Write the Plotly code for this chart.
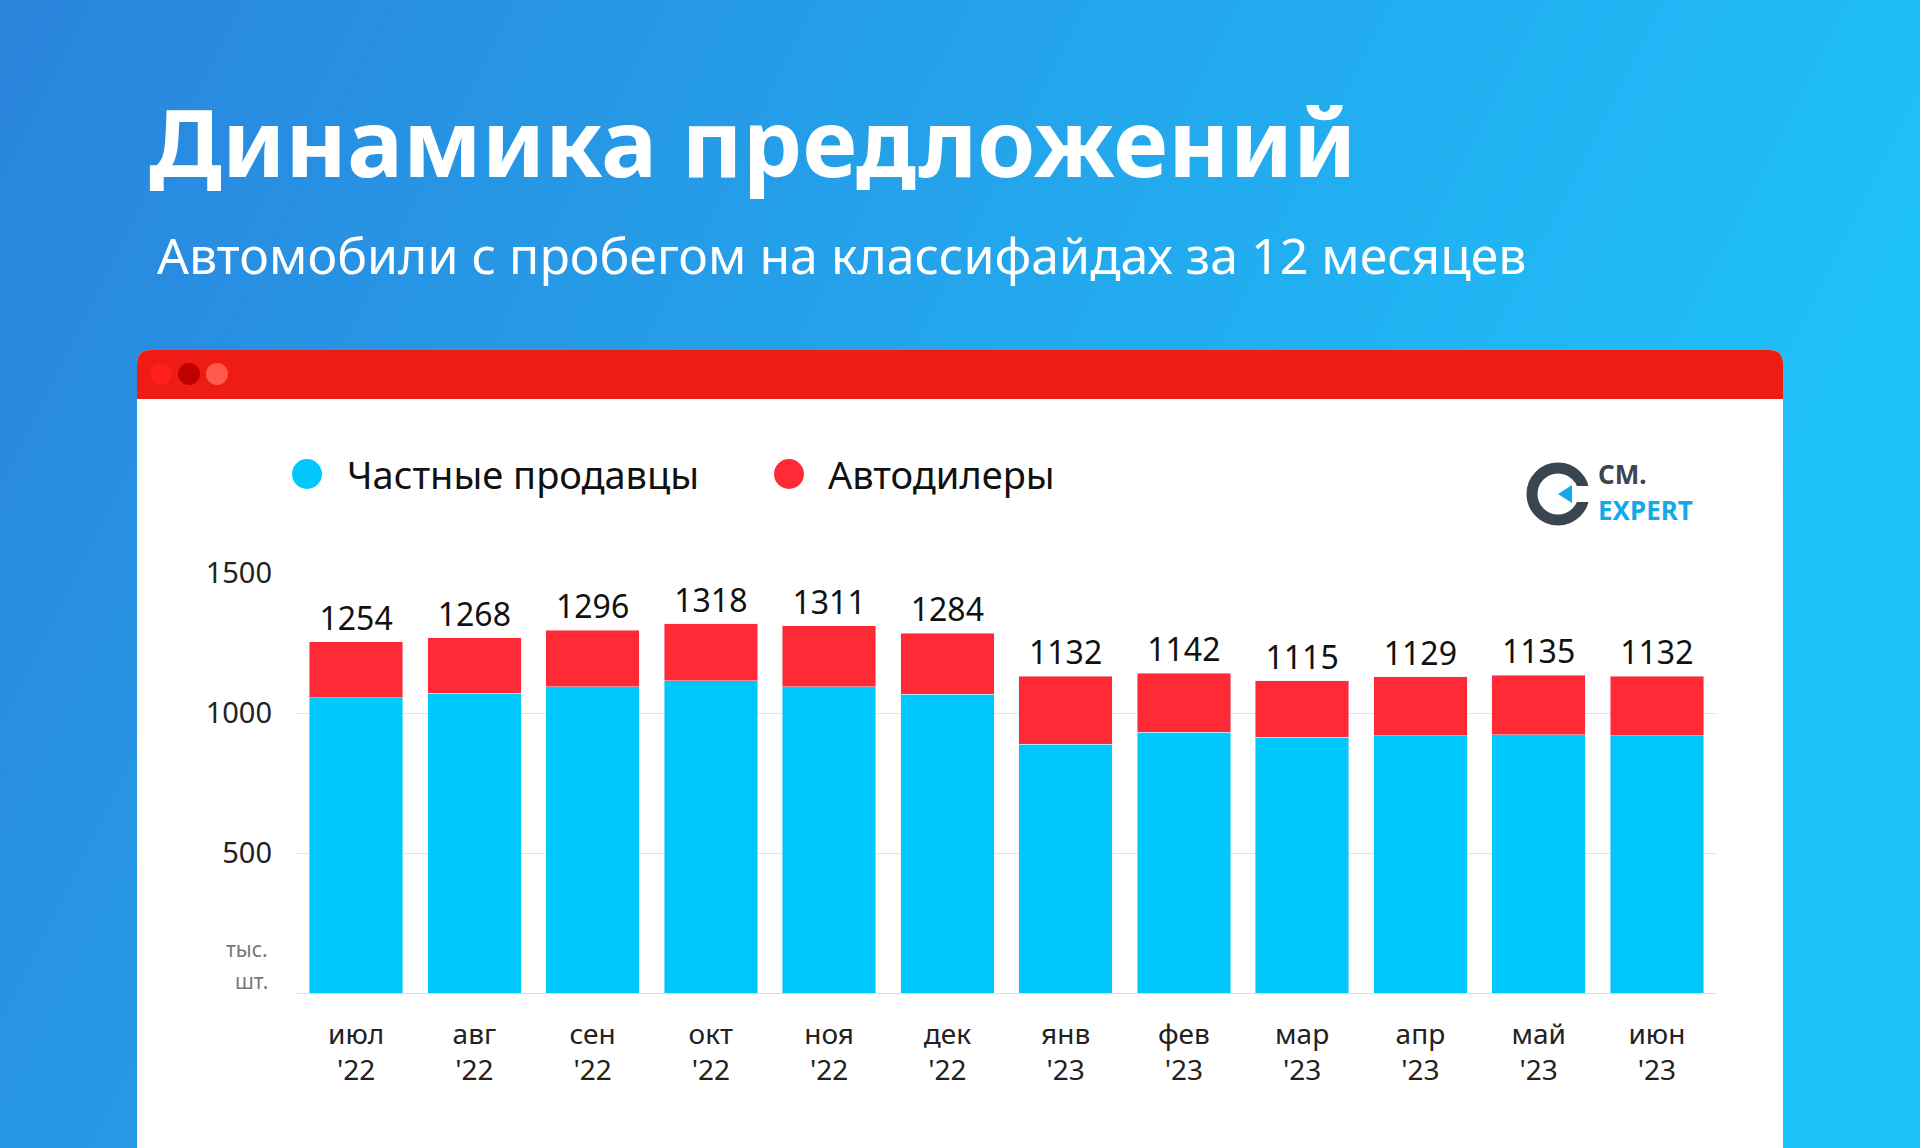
import plotly.graph_objects as go

months = ["июл", "авг", "сен", "окт", "ноя", "дек", "янв", "фев", "мар", "апр", "май", "июн"]
years = ["'22"] * 6 + ["'23"] * 6
totals = [1254, 1268, 1296, 1318, 1311, 1284, 1132, 1142, 1115, 1129, 1135, 1132]
private = [1054, 1071, 1093, 1115, 1093, 1067, 888, 931, 914, 918, 923, 918]
dealers = [t - p for t, p in zip(totals, private)]
ticks = [f"{m}<br>{y}" for m, y in zip(months, years)]

W, H = 1920, 1148
BLUE = "#00c8fd"
RED = "#ff2a36"
FONT = "Noto Sans"


def px_x(v):
    return v / W


def px_y(v):
    return 1 - v / H


fig = go.Figure()
fig.add_trace(go.Bar(x=ticks, y=private, marker_color=BLUE, name="Частные продавцы"))
fig.add_trace(go.Bar(x=ticks, y=dealers, marker_color=RED, name="Автодилеры",
                     text=[str(t) for t in totals], textposition="outside",
                     textfont=dict(size=32, color="#111", family=FONT), cliponaxis=False))

bg = ("data:image/svg+xml;utf8,<svg xmlns='http://www.w3.org/2000/svg' width='100' height='100' "
      "preserveAspectRatio='none'><defs><linearGradient id='g' x1='0' y1='0' x2='1' y2='0.3'>"
      "<stop offset='0' stop-color='%232a84dc'/><stop offset='1' stop-color='%231ec2fa'/>"
      "</linearGradient></defs><rect width='100' height='100' fill='url(%23g)'/></svg>")

shapes = []
# white card with rounded top corners
x0, x1, y0, y1, r = px_x(137), px_x(1783), px_y(1148), px_y(350), 14
shapes.append(dict(type="path", xref="paper", yref="paper", layer="below",
                   path=f"M {x0},{y0} L {x0},{px_y(350 + r)} Q {x0},{y1} {px_x(137 + r)},{y1} "
                        f"L {px_x(1783 - r)},{y1} Q {x1},{y1} {x1},{px_y(350 + r)} L {x1},{y0} Z",
                   fillcolor="white", line_width=0))
shapes.append(dict(type="path", xref="paper", yref="paper", layer="below",
                   path=f"M {x0},{px_y(399)} L {x0},{px_y(350 + r)} Q {x0},{y1} {px_x(137 + r)},{y1} "
                        f"L {px_x(1783 - r)},{y1} Q {x1},{y1} {x1},{px_y(350 + r)} L {x1},{px_y(399)} Z",
                   fillcolor="#ee1c14", line_width=0))
for cx, col in [(161, "#ff1f1f"), (189, "#c00000"), (217, "#ff5b4d")]:
    shapes.append(dict(type="circle", xref="paper", yref="paper",
                       x0=px_x(cx - 11), x1=px_x(cx + 11), y0=px_y(374 + 11), y1=px_y(374 - 11),
                       fillcolor=col, line_width=0))
# legend markers
for cx, col in [(307, BLUE), (789, RED)]:
    shapes.append(dict(type="circle", xref="paper", yref="paper",
                       x0=px_x(cx - 15), x1=px_x(cx + 15), y0=px_y(474 + 15), y1=px_y(474 - 15),
                       fillcolor=col, line_width=0))
# logo
shapes.append(dict(type="circle", xref="paper", yref="paper",
                   x0=px_x(1532), x1=px_x(1584), y0=px_y(520), y1=px_y(468),
                   fillcolor="rgba(0,0,0,0)", line=dict(color="#3a4550", width=11)))
shapes.append(dict(type="rect", xref="paper", yref="paper",
                   x0=px_x(1566), x1=px_x(1592), y0=px_y(502), y1=px_y(486),
                   fillcolor="white", line_width=0))
shapes.append(dict(type="path", xref="paper", yref="paper",
                   path=f"M {px_x(1558)},{px_y(494)} L {px_x(1572)},{px_y(485)} L {px_x(1572)},{px_y(503)} Z",
                   fillcolor="#13a8e8", line_width=0))

annotations = [
    dict(text="<b>Динамика предложений</b>", x=px_x(147), y=px_y(141), font=dict(size=94, color="white")),
    dict(text="Автомобили с пробегом на классифайдах за 12 месяцев", x=px_x(155), y=px_y(255),
         font=dict(size=50, color="white")),
    dict(text="Частные продавцы", x=px_x(345), y=px_y(474), font=dict(size=38, color="#111")),
    dict(text="Автодилеры", x=px_x(826), y=px_y(474), font=dict(size=38, color="#111")),
    dict(text="тыс.", x=px_x(270), y=px_y(949), xanchor="right", font=dict(size=21, color="#777")),
    dict(text="шт.", x=px_x(270), y=px_y(981), xanchor="right", font=dict(size=21, color="#777")),
    dict(text="<b>CM.</b>", x=px_x(1596), y=px_y(474), font=dict(size=26, color="#3a4550")),
    dict(text="<b>EXPERT</b>", x=px_x(1596), y=px_y(510), font=dict(size=26, color="#13a8e8")),
]
for a in annotations:
    a.setdefault("xanchor", "left")
    a.update(xref="paper", yref="paper", yanchor="middle", showarrow=False)
    a["font"]["family"] = FONT

fig.update_layout(
    width=W, height=H, barmode="stack", bargap=0.21, showlegend=False,
    margin=dict(l=0, r=0, t=0, b=0, pad=0),
    paper_bgcolor="#2aa0ea", plot_bgcolor="rgba(0,0,0,0)",
    font=dict(family=FONT, color="#111"),
    images=[dict(source=bg, xref="paper", yref="paper", x=0, y=1, sizex=1, sizey=1,
                 sizing="stretch", layer="below")],
    shapes=shapes, annotations=annotations,
    xaxis=dict(domain=[px_x(297), px_x(1716)], tickfont=dict(size=28, color="#222"),
               showline=True, linecolor="#ddd", ticks="", automargin=False,
               ticklabelstandoff=16),
    yaxis=dict(domain=[px_y(993), px_y(573)], range=[0, 1500], tickvals=[500, 1000, 1500],
               tickfont=dict(size=29, color="#222"), gridcolor="#e2e2e2", zeroline=False,
               ticklabelstandoff=24, automargin=False),
)

fig.write_html("out.html", config={"displayModeBar": False},
               post_script="document.body.style.margin='0';")
